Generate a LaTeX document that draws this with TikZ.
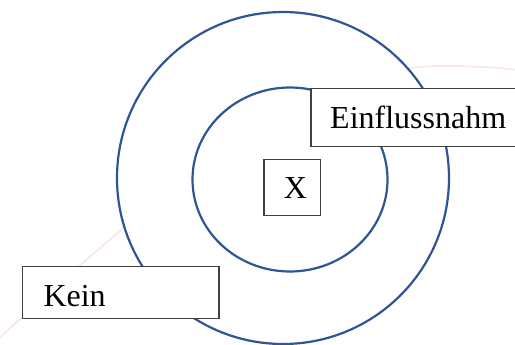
\documentclass[tikz,border=0pt]{standalone}
\usepackage{fontspec}
\setmainfont{Liberation Serif}
\usetikzlibrary{shapes.geometric}
\begin{document}
\begin{tikzpicture}[x=1pt,y=-1pt,
  ring/.style={draw=ringblue,line width=2.2pt},
  lbox/.style={draw=boxgray,line width=1.2pt,fill=white,inner sep=0pt,anchor=north west},
  lbl/.style={inner sep=0pt,anchor=base west,font=\fontsize{32}{38}\selectfont}]
\definecolor{ringblue}{HTML}{2F5597}
\definecolor{boxgray}{HTML}{404040}
\definecolor{faintpink}{HTML}{F8E4E8}
\useasboundingbox (0,0) rectangle (515,345);
% faint background curve
\draw[faintpink,line width=1.5pt] (-5,342) .. controls (150,200) and (300,68) .. (440,66) .. controls (480,66) and (500,68) .. (520,70);
% rings
\node[circle,minimum size=332pt,inner sep=0pt,fill=white,ring] (outer) at (283,178) {};
\node[ellipse,minimum width=195pt,minimum height=184pt,inner sep=0pt,ring] (inner) at (290,179.5) {};
% boxes
\node[lbox,minimum width=206pt,minimum height=57.7pt] (ebox) at (310.3,88) {};
\node[lbl] (etext) at (330,128.3) {Einflussnahm};
\node[lbox,minimum width=196.6pt,minimum height=52pt] (kbox) at (21.7,265.7) {};
\node[lbl] (ktext) at (43.3,306) {Kein};
\node[lbox,minimum width=56.7pt,minimum height=56.3pt] (xbox) at (263.3,158.7) {};
\node[lbl] (xtext) at (283.7,199) {X};
\end{tikzpicture}
\end{document}
